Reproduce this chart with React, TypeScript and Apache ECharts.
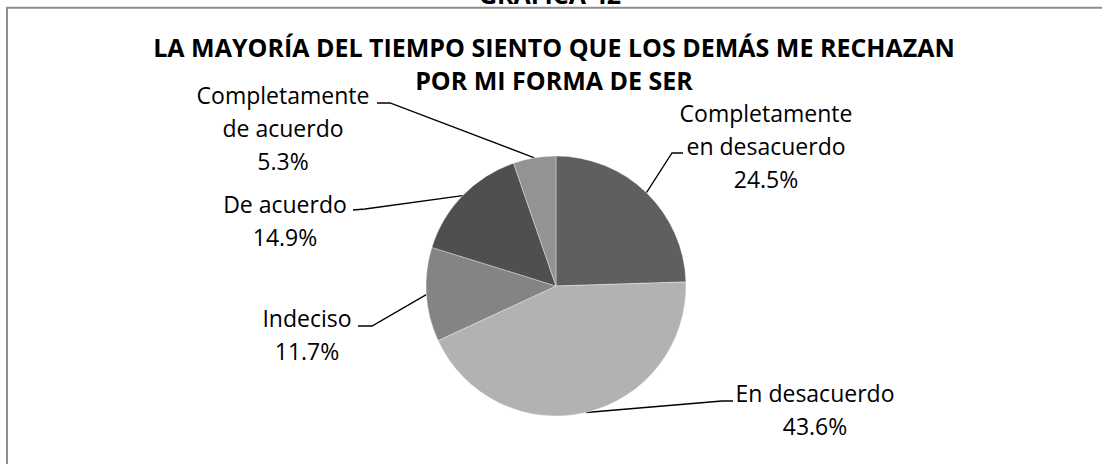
import React, { useEffect, useRef } from "react";
import * as echarts from "echarts";

const categories = [
  "Completamente\nen desacuerdo",
  "En desacuerdo",
  "Indeciso",
  "De acuerdo",
  "Completamente\nde acuerdo",
];
const values = [24.5, 43.6, 11.7, 14.9, 5.3];
const colors = ["#5f5f5f", "#b2b2b2", "#848484", "#4f4f4f", "#939393"];

const titleLines = [
  "LA MAYORÍA DEL TIEMPO SIENTO QUE LOS DEMÁS ME RECHAZAN",
  "POR MI FORMA DE SER",
];
const topCaption = "GRÁFICA 42";

// label placement (layout only): block centre x, block top y, leader elbow and end
const labelPlacement = [
  { x: 766, y: 96.5, elbow: [672, 153], end: [683, 153] },
  { x: 815, y: 376.5, elbow: [722, 401], end: [733, 401] },
  { x: 307, y: 301.5, elbow: [372, 326], end: [358, 326] },
  { x: 285, y: 187.5, elbow: [365, 209], end: [353, 210] },
  { x: 283, y: 78.5, elbow: [390, 103], end: [377, 103] },
];

const FONT = "'Open Sans', 'Noto Sans', sans-serif";

export default function App() {
  const ref = useRef<HTMLDivElement>(null);
  useEffect(() => {
    if (!ref.current) return;
    const chart = echarts.init(ref.current, undefined, { renderer: "svg" });
    const data = categories.map((name, i) => ({
      name,
      value: values[i],
      itemStyle: { color: colors[i] },
    }));
    chart.setOption({
      animation: false,
      backgroundColor: "#ffffff",
      graphic: [
        {
          type: "rect",
          shape: { x: 7, y: 7.7, width: 1200, height: 600 },
          style: { fill: "none", stroke: "#8e8e8e", lineWidth: 2 },
          silent: true,
        },
        {
          type: "text",
          x: 550,
          y: -6.5,
          style: {
            text: topCaption,
            font: `bold 25px ${FONT}`,
            fill: "#000",
            align: "center",
            verticalAlign: "middle",
          },
        },
        {
          type: "text",
          x: 554,
          y: 46.5,
          style: {
            text: titleLines[0],
            font: `bold 25px ${FONT}`,
            fill: "#000",
            align: "center",
            verticalAlign: "middle",
          },
        },
        {
          type: "text",
          x: 554,
          y: 80,
          style: {
            text: titleLines[1],
            font: `bold 25px ${FONT}`,
            fill: "#000",
            align: "center",
            verticalAlign: "middle",
          },
        },
      ],
      series: [
        {
          type: "pie",
          center: [556, 286],
          radius: 130,
          startAngle: 90,
          clockwise: true,
          avoidLabelOverlap: false,
          itemStyle: { borderColor: "rgba(255,255,255,0.6)", borderWidth: 0.6 },
          emphasis: { disabled: true },
          label: {
            show: true,
            position: "outside",
            formatter: (p: any) => `${p.name}\n${values[p.dataIndex].toFixed(1)}%`,
            fontFamily: FONT,
            fontSize: 23,
            lineHeight: 33,
            color: "#000",
          },
          labelLine: {
            show: true,
            length: 20,
            length2: 10,
            lineStyle: { color: "#000", width: 1.3 },
          },
          labelLayout: (params: any) => {
            const p = labelPlacement[params.dataIndex];
            const start = params.labelLinePoints ? params.labelLinePoints[0] : p.elbow;
            return {
              x: p.x,
              y: p.y,
              align: "center",
              verticalAlign: "top",
              labelLinePoints: [start, p.elbow, p.end],
            };
          },
          data,
        },
      ],
    });
    return () => chart.dispose();
  }, []);
  return (
    <div
      ref={ref}
      style={{ position: "fixed", left: 0, top: 0, width: 1102, height: 464 }}
    />
  );
}
